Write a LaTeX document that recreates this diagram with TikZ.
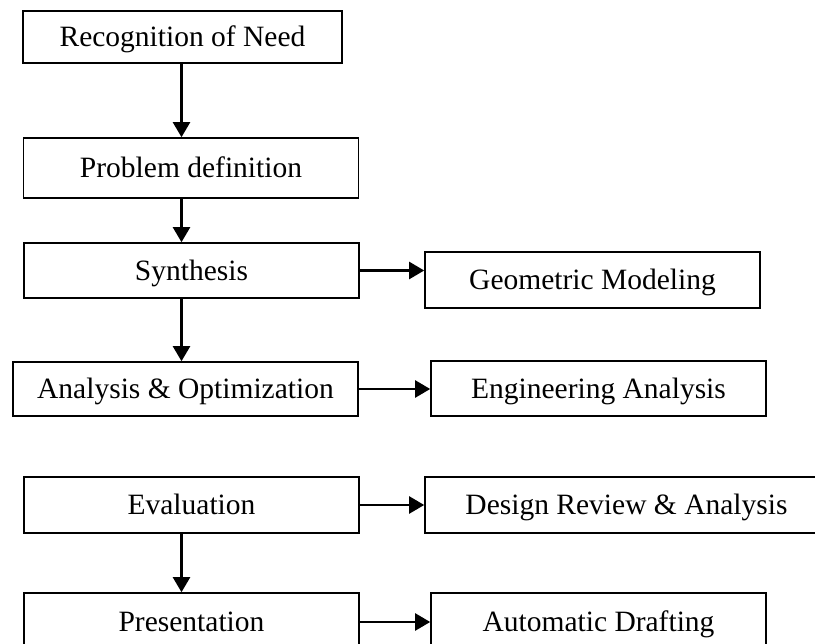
\documentclass[tikz,border=0pt]{standalone}
\usepackage{fontspec}
\setmainfont{Liberation Serif}
\usetikzlibrary{arrows.meta}
\begin{document}
\begin{tikzpicture}[x=1pt,y=-1pt,
  stage/.style={draw, line width=1.6pt, inner sep=0pt,
    text height=19.5pt, text depth=0pt,
    font=\fontsize{29.5}{35}\selectfont},
  flow/.style={line width=2.3pt, -{Triangle[length=15pt,width=17pt]}}]
\useasboundingbox (0,0) rectangle (815,644);

% main column
\node[stage, minimum width=319pt, minimum height=52pt] (rec)  at (182.5,37)  {Recognition of Need};
\node[stage, minimum width=335pt, minimum height=60pt] (prob) at (191,168)   {Problem definition};
\node[stage, minimum width=335pt, minimum height=55pt] (syn)  at (191.5,270.5) {Synthesis};
\node[stage, minimum width=345pt, minimum height=54pt] (ana)  at (185.5,389) {Analysis \& Optimization};
\node[stage, minimum width=335pt, minimum height=56pt] (eva)  at (191.5,505) {Evaluation};
\node[stage, minimum width=335pt, minimum height=58pt] (pres) at (191.5,622) {Presentation};

% computer-aided activities
\node[stage, minimum width=335pt, minimum height=56pt] (geo)  at (592.5,280) {Geometric Modeling};
\node[stage, minimum width=335pt, minimum height=55pt] (eng)  at (598.5,388.5) {Engineering Analysis};
\node[stage, minimum width=403pt, minimum height=56pt] (des)  at (626.5,505) {Design Review \& Analysis};
\node[stage, minimum width=335pt, minimum height=58pt] (auto) at (598.5,622) {Automatic Drafting};

% vertical flow line
\coordinate (spine) at (181.5,0);

\draw[flow] (rec.south -| spine)  -- (prob.north -| spine);
\draw[flow] (prob.south -| spine) -- (syn.north -| spine);
\draw[flow] (syn.south -| spine)  -- (ana.north -| spine);
\draw[flow] (eva.south -| spine)  -- (pres.north -| spine);

\draw[flow] (syn.east)  -- (syn.east -| geo.west);
\draw[flow] (ana.east)  -- (ana.east -| eng.west);
\draw[flow] (eva.east)  -- (eva.east -| des.west);
\draw[flow] (pres.east) -- (pres.east -| auto.west);
\end{tikzpicture}
\end{document}
